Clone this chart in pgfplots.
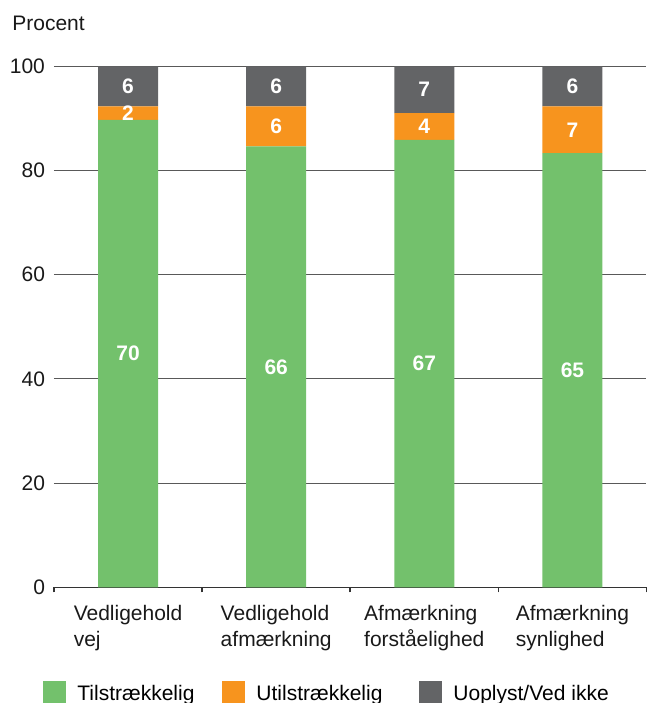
\documentclass[border=0pt]{standalone}
\usepackage{pgfplots}
\pgfplotsset{compat=1.18}
\usepackage{pgfplotstable}
\usepackage{fontspec}
\setmainfont{Liberation Sans}
\definecolor{cgreen}{RGB}{115,193,108}
\definecolor{corange}{RGB}{247,148,30}
\definecolor{cgray}{RGB}{99,100,102}
\pgfplotstableread{
x g o u gl ol ul
0 89.74 2.56 7.69 70 2 6
1 84.62 7.69 7.69 66 6 6
2 85.90 5.13 8.97 67 4 7
3 83.33 8.97 7.69 65 7 6
}\data
\begin{document}
\begin{tikzpicture}[font=\fontsize{10.5}{13}\selectfont]
\begin{axis}[name=ax,
  scale only axis, width=296.25pt, height=260.5pt, clip=false,
  ybar stacked, bar width=30pt,
  xmin=-0.5, xmax=3.5, ymin=0, ymax=100,
  xtick={0,1,2,3},
  xticklabels={{Vedligehold\\vej},{Vedligehold\\afmærkning},{Afmærkning\\forståelighed},{Afmærkning\\synlighed}},
  xticklabel style={align=left, yshift=-5.5pt},
  yticklabel style={xshift=-1pt},
  minor xtick={-0.5,0.5,1.5,2.5,3.5},
  major tick length=0pt, minor tick length=2.5pt, tick align=outside,
  ytick={0,20,40,60,80,100},
  ymajorgrids, grid style={black!65, line width=0.5pt},
  axis x line*=bottom, axis y line*=left,
  y axis line style={draw=none},
  x axis line style={black!80, line width=0.8pt},
  minor tick style={black!80, line width=0.8pt},
  tick label style={font=\fontsize{10.5}{13}\selectfont, text=black!90},
  /pgf/number format/assume math mode=true,
  point meta=explicit,
  nodes near coords,
  nodes near coords style={font=\fontsize{10.5}{13}\selectfont\bfseries, text=white, anchor=center},
  legend image code/.code={\fill[#1] (0pt,-5.5pt) rectangle (11.5pt,5.5pt);},
  legend columns=3,
  legend style={at={(0,0)}, anchor=north west, xshift=-5.5pt, yshift=-46.85pt,
    draw=none, inner sep=0pt, font=\fontsize{10.5}{13}\selectfont,
    /tikz/every even column/.append style={column sep=14pt},
    nodes={inner sep=0pt, text depth=0pt},
  },
  legend cell align=left,
]
\addplot[fill=cgreen, draw=none] table[x=x, y=g, meta=gl] {\data};
\addplot[fill=corange, draw=none] table[x=x, y=o, meta=ol] {\data};
\addplot[fill=cgray, draw=none] table[x=x, y=u, meta=ul] {\data};
\legend{\hspace{5.5pt}Tilstrækkelig,\hspace{5.5pt}Utilstrækkelig\rule{4.5pt}{0pt},\hspace{5.5pt}Uoplyst/Ved ikke}
\node[anchor=base west, inner sep=0pt, text=black!90] at ([xshift=-21pt, yshift=18pt]rel axis cs:0,1) {Procent};
\coordinate (bl) at (rel axis cs:0,0);
\end{axis}
\pgfresetboundingbox
\path (bl) ++(-27pt,-57.85pt) rectangle ++(325pt,351.5pt);
\end{tikzpicture}
\end{document}
